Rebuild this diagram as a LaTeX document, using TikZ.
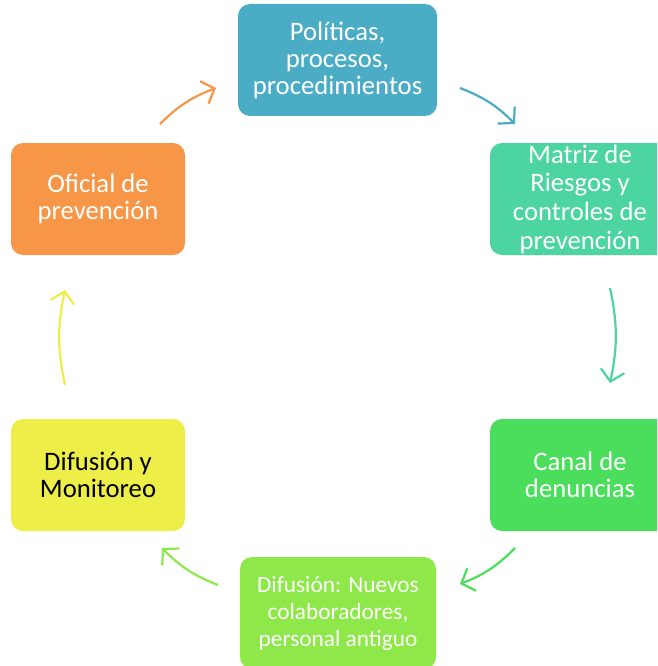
\documentclass[tikz,border=0pt]{standalone}
\usepackage{fontspec}
\setmainfont{Carlito}
\usetikzlibrary{arrows.meta}
\definecolor{cblue}{HTML}{4BACC6}
\definecolor{cteal}{HTML}{4CD4A1}
\definecolor{cgreen}{HTML}{4ADE5C}
\definecolor{clime}{HTML}{8EE84A}
\definecolor{cyellow}{HTML}{EEEE48}
\definecolor{corange}{HTML}{F79646}
\begin{document}
\begin{tikzpicture}[x=1pt,y=-1pt,
  box/.style={rounded corners=12pt,minimum width=#1,minimum height=112pt,inner sep=0pt,align=center,text=white,font=\fontsize{26.7}{27}\selectfont},
  cyc/.style={line width=2.2pt,-{Straight Barb[length=11pt,width=24pt,line width=2.2pt]},bend left=12}]
\useasboundingbox (0,0) rectangle (657,666);
\begin{scope}
\clip (0,0) rectangle (657,666);
\node[box=199pt,fill=cblue] (pol) at (337.5,60) {Políticas,\\procesos,\\procedimientos};
\node[box=180pt,fill=cteal,font=\fontsize{26.7}{28.7}\selectfont] (mat) at (580,199) {Matriz de\\Riesgos y\\controles de\\prevención};
\node[box=180pt,fill=cgreen] (can) at (580,475) {Canal de\\denuncias};
\node[box=196pt,fill=clime,font=\fontsize{23.3}{27}\selectfont] (dif) at (338,613) {Difusión: Nuevos\\colaboradores,\\personal antiguo};
\node[box=174pt,fill=cyellow,text=black] (mon) at (98,475) {Difusión y\\Monitoreo};
\node[box=174pt,fill=corange] (ofi) at (98,199) {Oficial de\\prevención};
\end{scope}
\coordinate (a1s) at (160,124); \coordinate (a1e) at (216,88);
\coordinate (a2s) at (460,88);  \coordinate (a2e) at (515,124);
\coordinate (a3s) at (610,288); \coordinate (a3e) at (610,383);
\coordinate (a4s) at (515,548); \coordinate (a4e) at (460,584);
\coordinate (a5s) at (218,585); \coordinate (a5e) at (162,548);
\coordinate (a6s) at (65,385);  \coordinate (a6e) at (65,290);
\draw[cyc,draw=corange] (a1s) to (a1e);
\draw[cyc,draw=cblue] (a2s) to (a2e);
\draw[cyc,draw=cteal] (a3s) to (a3e);
\draw[cyc,draw=cgreen] (a4s) to (a4e);
\draw[cyc,draw=clime] (a5s) to (a5e);
\draw[cyc,draw=cyellow] (a6s) to (a6e);
\end{tikzpicture}
\end{document}
